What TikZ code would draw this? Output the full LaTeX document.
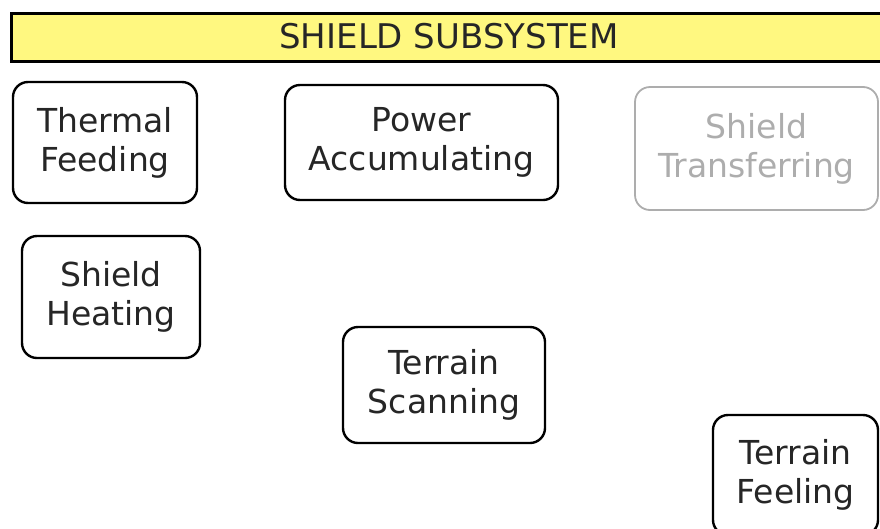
\documentclass[tikz,border=0pt]{standalone}
\usepackage{fontspec}
\setmainfont{DejaVu Sans}
\begin{document}
\begin{tikzpicture}[x=1pt,y=-1pt,
  boxstyle/.style={draw=black, line width=2.4pt, rounded corners=15pt, fill=white,
    align=center, inner sep=0pt, text=black!85,
    font=\fontsize{33}{39}\selectfont},
  fadedbox/.style={boxstyle, draw=black!32, text=black!32, line width=1.8pt},
  titlebar/.style={draw=black, line width=3pt, fill=yellow!50, inner sep=0pt}
]
\useasboundingbox (0,0) rectangle (880,528);
\clip (0,0) rectangle (880,528);
% title bar
\node[titlebar, minimum width=900pt, minimum height=48pt, anchor=north west] (bar) at (9.5,11.5) {};
\node[font=\fontsize{34}{40}\selectfont, text=black!85, inner sep=0pt] (title) at (449,36) {SHIELD SUBSYSTEM};
% boxes
\node[boxstyle, minimum width=184pt, minimum height=121pt] (thermal) at (105,142.5) {Thermal\\Feeding};
\node[boxstyle, minimum width=273pt, minimum height=115pt] (power) at (421.5,142.5) {Power\\Accumulating};
\node[fadedbox, minimum width=243pt, minimum height=123pt] (transfer) at (756.5,148.5) {Shield\\Transferring};
\node[boxstyle, minimum width=178pt, minimum height=122pt] (heating) at (111,297) {Shield\\Heating};
\node[boxstyle, minimum width=202pt, minimum height=116pt] (scanning) at (444,385) {Terrain\\Scanning};
\node[boxstyle, minimum width=165pt, minimum height=120pt] (feeling) at (795.5,475) {Terrain\\Feeling};
\end{tikzpicture}
\end{document}
